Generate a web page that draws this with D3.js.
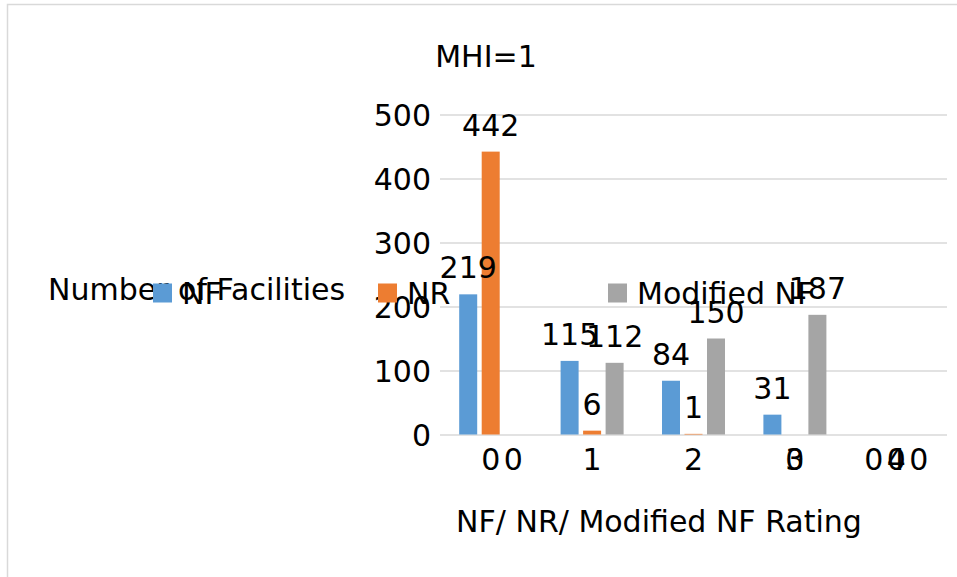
<!DOCTYPE html>
<html>
<head>
<meta charset="utf-8">
<script src="https://cdn.jsdelivr.net/npm/d3@7"></script>
<style>
  body { margin: 0; background: #fff; }
  text { font-family: "DejaVu Sans", sans-serif; fill: #000; }
</style>
</head>
<body>
<svg id="chart" width="957" height="577"></svg>
<script>
var categories = ['0', '1', '2', '3', '4']
var seriesNames = ['NF', 'NR', 'Modified NF']
var nfValues = [219, 115, 84, 31, 0]
var nrValues = [442, 6, 1, 0, 0]
var modNfValues = [0, 112, 150, 187, 0]
var yTicks = [0, 100, 200, 300, 400, 500]

var colors = ['#5b9bd5', '#ed7d31', '#a5a5a5']
var fontSize = 30

var plot = {left: 440, right: 947, top: 114.5, bottom: 434.5}

var svg = d3.select('#chart')

// chart frame
svg.append('rect')
  .attr('x', 7.5).attr('y', 4.5)
  .attr('width', 1200).attr('height', 1200)
  .attr('fill', 'none')
  .attr('stroke', '#d9d9d9')
  .attr('stroke-width', 1.5)

var rows = categories.map((c, i) => ({cat: c, vals: [nfValues[i], nrValues[i], modNfValues[i]]}))

var x0 = d3.scaleBand()
  .domain(categories)
  .range([plot.left, plot.right])

var x1 = d3.scaleBand()
  .domain(seriesNames)
  .range([-33.75, 33.75])
  .paddingInner(0.2)
  .paddingOuter(0.1)

var y = d3.scaleLinear()
  .domain([0, 500])
  .range([plot.bottom, plot.top])

// gridlines + y labels
var yAxis = svg.append('g')
  .attr('transform', 'translate(' + plot.left + ',0)')
  .call(d3.axisLeft(y).tickValues(yTicks).tickSize(-(plot.right - plot.left)).tickPadding(9))
yAxis.select('.domain').remove()
yAxis.selectAll('line').attr('stroke', '#d9d9d9').attr('stroke-width', 1.5)
yAxis.selectAll('text')
  .style('font-family', '"DejaVu Sans", sans-serif')
  .style('font-size', fontSize + 'px')
  .attr('fill', '#000')
  .attr('dy', '0.36em')

// x labels
var tickBase = 470
svg.append('g').selectAll('text')
  .data(categories)
  .enter()
  .append('text')
    .attr('x', d => x0(d) + x0.bandwidth() / 2)
    .attr('y', tickBase)
    .attr('text-anchor', 'middle')
    .style('font-size', fontSize + 'px')
    .text(d => d)

// bars
var groups = svg.append('g').selectAll('g')
  .data(rows)
  .enter()
  .append('g')
    .attr('transform', d => 'translate(' + (x0(d.cat) + x0.bandwidth() / 2) + ',0)')

groups.selectAll('rect')
  .data(d => d.vals.map((v, k) => ({key: seriesNames[k], v: v, k: k})))
  .enter()
  .append('rect')
    .attr('x', d => x1(d.key))
    .attr('width', x1.bandwidth())
    .attr('y', d => y(d.v))
    .attr('height', d => y(0) - y(d.v))
    .attr('fill', d => colors[d.k])

// data labels (zero values end up down on the tick row, like the source)
groups.selectAll('text')
  .data(d => d.vals.map((v, k) => ({key: seriesNames[k], v: v, k: k})))
  .enter()
  .append('text')
    .attr('x', d => x1(d.key) + x1.bandwidth() / 2)
    .attr('y', d => d.v > 0 ? y(d.v) - 16 : tickBase)
    .attr('text-anchor', 'middle')
    .style('font-size', fontSize + 'px')
    .text(d => d.v)

// title
svg.append('text')
  .attr('x', 486).attr('y', 66.5)
  .attr('text-anchor', 'middle')
  .style('font-size', fontSize + 'px')
  .text('MHI=1')

// axis titles
svg.append('text')
  .attr('x', 48).attr('y', 299.5)
  .style('font-size', fontSize + 'px')
  .text('Number of Facilities')

svg.append('text')
  .attr('x', 659).attr('y', 532)
  .attr('text-anchor', 'middle')
  .style('font-size', fontSize + 'px')
  .text('NF/ NR/ Modified NF Rating')

// legend
var legendX = [153, 378, 608]
var legend = svg.append('g').selectAll('g')
  .data(seriesNames)
  .enter()
  .append('g')
    .attr('transform', (d, i) => 'translate(' + legendX[i] + ',283.5)')
legend.append('rect')
  .attr('width', 19).attr('height', 19)
  .attr('fill', (d, i) => colors[i])
legend.append('text')
  .attr('x', 29).attr('y', 20.5)
  .style('font-size', fontSize + 'px')
  .text(d => d)
</script>
</body>
</html>
